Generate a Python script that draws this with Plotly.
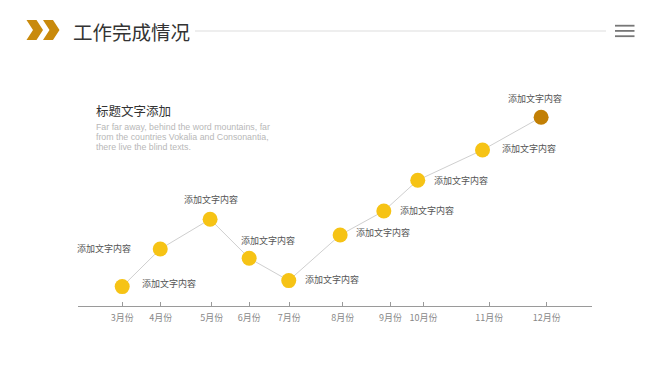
import plotly.graph_objects as go

# ---- data ----
months = ["3月份", "4月份", "5月份", "6月份", "7月份", "8月份", "9月份", "10月份", "11月份", "12月份"]
point_x = [8.6, 16.0, 25.7, 33.3, 41.0, 51.0, 59.5, 66.1, 78.7, 90.1]
tick_x = [8.6, 16.1, 26.0, 33.3, 41.1, 51.5, 60.8, 67.2, 80.0, 91.2]
values = [9.7, 28.5, 43.4, 23.9, 12.7, 35.5, 47.5, 62.9, 78.0, 94.4]
labels = ["添加文字内容"] * 10

title_text = "工作完成情况"
subtitle_text = "标题文字添加"
body_lines = ["Far far away, behind the word mountains, far",
              "from the countries Vokalia and Consonantia,",
              "there live the blind texts."]

# ---- layout geometry (page pixels; page body has an 8px margin) ----
OFF = 8
W, H = 668 - OFF, 376 - OFF
PX0, PX1 = 78, 592      # plot area left/right in page pixels
PY0, PY1 = 106, 306     # plot area top/bottom in page pixels
L, R = PX0 - OFF, W - (PX1 - OFF)
T, B = PY0 - OFF, H - (PY1 - OFF)
PW, PH = PX1 - PX0, PY1 - PY0

def px(x):
    return (x - PX0) / PW

def py(y):
    return (PY1 - y) / PH

CJK = "Noto Sans CJK SC"
YELLOW = "#F6C315"
DARK = "#C27F04"

colors = [YELLOW] * (len(values) - 1) + [DARK]

fig = go.Figure()
fig.add_trace(go.Scatter(
    x=point_x, y=values, mode="lines+markers",
    line=dict(color="#CFCFCF", width=1),
    marker=dict(size=15, color=colors, line=dict(width=0)),
    hoverinfo="skip", showlegend=False,
))

# label placement: (xanchor, xshift, yshift)
placement = [
    ("left", 18, 3), ("right", -27, 1), ("center", 1, 20), ("center", 19, 18),
    ("left", 14, 1), ("left", 14, 3), ("left", 14, 1), ("left", 14, 0),
    ("left", 17, 2), ("center", -6, 19),
]
annotations = []
for xv, yv, txt, (xa, xs, ys) in zip(point_x, values, labels, placement):
    annotations.append(dict(
        x=xv, y=yv, xref="x", yref="y", text=txt, showarrow=False,
        xanchor=xa, yanchor="middle", xshift=xs, yshift=ys,
        font=dict(family=CJK, size=9, color="#555555"),
    ))

# header title
annotations.append(dict(
    x=px(71), y=py(31), xref="paper", yref="paper", text=title_text,
    showarrow=False, xanchor="left", yanchor="middle",
    font=dict(family=CJK, size=19.5, color="#333333"),
))
# subtitle
annotations.append(dict(
    x=px(94), y=py(110), xref="paper", yref="paper", text=subtitle_text,
    showarrow=False, xanchor="left", yanchor="middle",
    font=dict(family=CJK, size=12.5, color="#333333"),
))
# body paragraph
for i, line in enumerate(body_lines):
    annotations.append(dict(
        x=px(94), y=py(127 + 10 * i), xref="paper", yref="paper", text=line,
        showarrow=False, xanchor="left", yanchor="middle", align="left",
        font=dict(family="Liberation Sans", size=8.8, color="#B8B8B8"),
    ))

def poly(pts):
    d = "M " + " L ".join(f"{px(a):.5f},{py(b):.5f}" for a, b in pts) + " Z"
    return d

shapes = []
# chevrons
for off in (0, 16.5):
    pts = [(26.5 + off, 20), (36.5 + off, 20), (43 + off, 30), (36.5 + off, 40),
           (26.5 + off, 40), (33 + off, 30)]
    shapes.append(dict(type="path", path=poly(pts), xref="paper", yref="paper",
                       fillcolor="#C98A0C", line=dict(width=0)))
# header divider
shapes.append(dict(type="line", x0=px(195), x1=px(606), y0=py(31), y1=py(31),
                   xref="paper", yref="paper", line=dict(color="#DDDDDD", width=1.2)))
# hamburger icon
for yy in (25.7, 30.9, 36.2):
    shapes.append(dict(type="line", x0=px(615), x1=px(634.5), y0=py(yy), y1=py(yy),
                       xref="paper", yref="paper", line=dict(color="#777777", width=1.8)))

fig.update_layout(
    width=W, height=H,
    margin=dict(l=L, r=R, t=T, b=B),
    paper_bgcolor="white", plot_bgcolor="white",
    annotations=annotations, shapes=shapes,
    xaxis=dict(range=[0, 100], showgrid=False, zeroline=False,
               showline=True, linecolor="#9A9A9A", linewidth=1.2,
               tickmode="array", tickvals=tick_x, ticktext=months,
               ticks="inside", ticklen=4, tickcolor="#9A9A9A", tickwidth=1,
               tickfont=dict(family=CJK, size=9, color="#888888"),
               ticklabelstandoff=3, fixedrange=True),
    yaxis=dict(range=[0, 100], visible=False, fixedrange=True),
)

fig.write_html("out.html")
